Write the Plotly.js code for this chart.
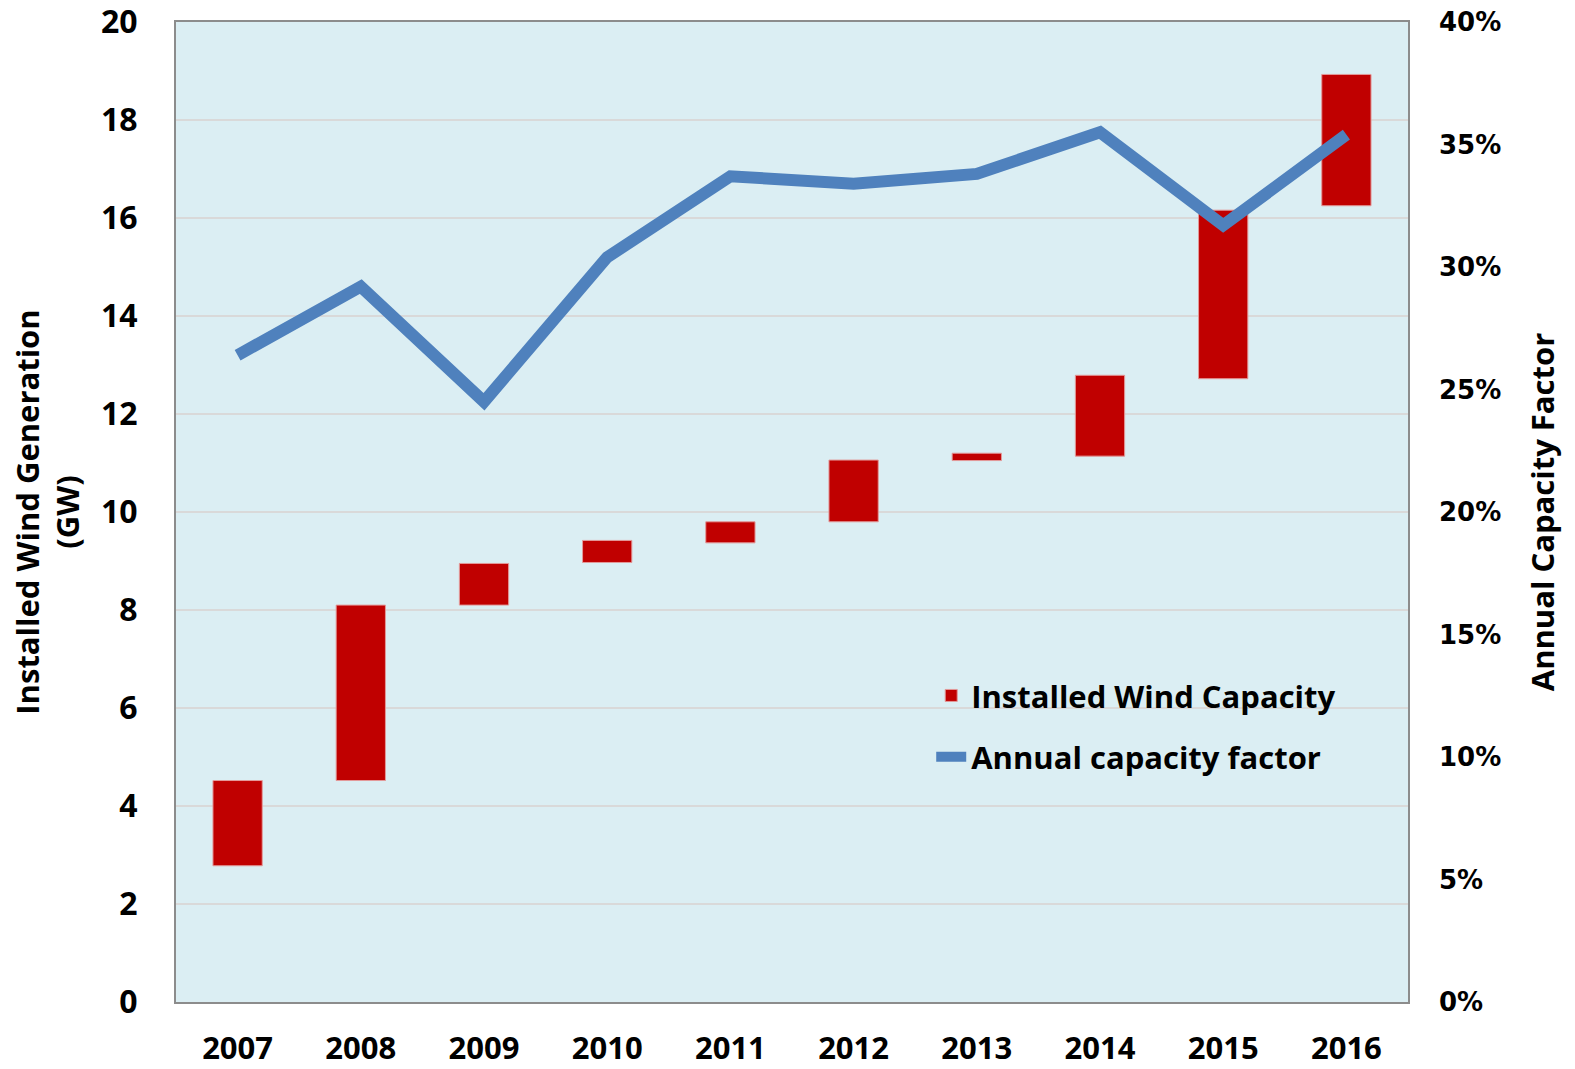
<!DOCTYPE html>
<html>
<head>
<meta charset="utf-8">
<script src="https://cdn.plot.ly/plotly-3.0.1.min.js"></script>
<style>html,body{margin:0;padding:0;background:#fff;}#chart{width:1575px;height:1069px;}</style>
</head>
<body>
<div id="chart"></div>
<script>
// Years (categories)
const years = ["2007","2008","2009","2010","2011","2012","2013","2014","2015","2016"];
// Installed wind capacity at start and end of each year (GW)
const capacityStart = [2.78, 4.52, 8.10, 8.97, 9.37, 9.80, 11.05, 11.14, 12.72, 16.25];
const capacityEnd   = [4.52, 8.10, 8.95, 9.42, 9.80, 11.06, 11.20, 12.79, 16.16, 18.93];
// Annual capacity factor (fraction)
const capacityFactor = [0.264, 0.292, 0.245, 0.304, 0.337, 0.334, 0.338, 0.355, 0.317, 0.354];
// Axis ranges and tick steps
const leftRange = [0, 20];
const leftStep = 2;
const rightRange = [0, 0.40];
const rightStep = 0.05;

const capacityDelta = capacityEnd.map((v, i) => v - capacityStart[i]);

const bold = {family: "Open Sans, Liberation Sans, sans-serif", weight: 700, color: "#000"};

const traces = [
  {
    type: "bar",
    name: "Installed Wind Capacity",
    x: years,
    y: capacityDelta,
    base: capacityStart,
    width: 0.4,
    marker: {color: "#C00000", line: {color: "#E39A9A", width: 1}},
    legendgroup: "a",
    hoverinfo: "x+y"
  },
  {
    type: "scatter",
    mode: "lines",
    name: "Annual capacity factor",
    x: years,
    y: capacityFactor,
    yaxis: "y2",
    line: {color: "#4F81BD", width: 12},
    legendgroup: "b"
  }
];

const layout = {
  width: 1575,
  height: 1069,
  margin: {l: 176, r: 167, t: 22, b: 67, pad: 0},
  paper_bgcolor: "#FFFFFF",
  plot_bgcolor: "#DBEEF3",
  showlegend: true,
  bargap: 0.6,
  xaxis: {
    type: "category",
    range: [-0.5, 9.5],
    showgrid: false,
    zeroline: false,
    showline: true,
    mirror: true,
    linecolor: "#8C8C8C",
    linewidth: 2,
    ticks: "",
    ticklabelstandoff: 18,
    tickfont: Object.assign({size: 31}, bold),
    fixedrange: true
  },
  yaxis: {
    range: leftRange,
    tickmode: "linear",
    tick0: 0,
    dtick: leftStep,
    showgrid: true,
    gridcolor: "#D9D9D9",
    gridwidth: 2,
    zeroline: false,
    showline: true,
    mirror: true,
    linecolor: "#8C8C8C",
    linewidth: 2,
    ticks: "",
    ticklabelstandoff: 30,
    ticklabeloverflow: "allow",
    tickfont: Object.assign({size: 32}, bold),
    title: {
      text: "Installed Wind Generation<br>(GW)",
      font: Object.assign({size: 31}, bold),
      standoff: 12
    }
  },
  yaxis2: {
    overlaying: "y",
    side: "right",
    range: rightRange,
    tickmode: "linear",
    tick0: 0,
    dtick: rightStep,
    tickformat: ".0%",
    showgrid: false,
    zeroline: false,
    showline: false,
    ticks: "",
    ticklabelstandoff: 30,
    tickfont: {family: "DejaVu Sans, sans-serif", weight: 700, size: 26, color: "#000"},
    title: {
      text: "Annual Capacity Factor",
      font: Object.assign({size: 31}, bold),
      standoff: 32
    }
  },
  legend: {
    x: 0.613,
    y: 0.340,
    xanchor: "left",
    yanchor: "top",
    bgcolor: "rgba(0,0,0,0)",
    font: Object.assign({size: 31}, bold),
    traceorder: "grouped",
    tracegroupgap: 18,
    itemwidth: 30
  }
};

Plotly.newPlot("chart", traces, layout, {displayModeBar: false, staticPlot: true});
</script>
</body>
</html>
